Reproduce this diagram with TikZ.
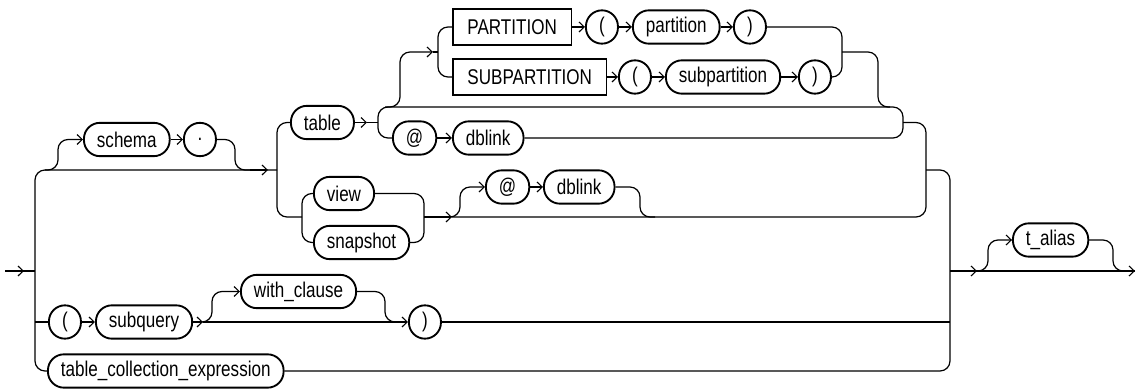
\documentclass[tikz,border=0pt]{standalone}
\usepackage{fontspec}
\setmainfont{Liberation Sans}[FakeStretch=0.8]
\usetikzlibrary{arrows.meta,positioning}

\begin{document}
\begin{tikzpicture}[
  x=0.75pt, y=-0.75pt,
  font=\fontsize{16}{19}\selectfont,
  >={Straight Barb[length=3.8pt,width=7.5pt]},
  nt/.style={rectangle, rounded corners=12pt, draw, line width=1.4pt,
             minimum width=24pt, minimum height=25pt, inner xsep=9.75pt,
             inner ysep=0pt, anchor=west},
  kw/.style={rectangle, draw, line width=1.4pt, minimum height=27pt,
             inner xsep=10.9pt, inner ysep=0pt, anchor=west},
  rail/.style={line width=0.9pt, rounded corners=7.5pt},
  arr/.style={rail, ->}
]
\useasboundingbox (0,0) rectangle (1142,391);

%% junctions
\coordinate (in) at (5,271);
\coordinate (bus) at (35,271);
\coordinate (out) at (1135,271);
\coordinate (jtop) at (277,170);
\coordinate (jtab) at (378,122.5);
\coordinate (jmid) at (926,170);
\coordinate (jend) at (950,271);

%% schema . table
\node[nt] (schema) at (83,139.5) {schema};
\node[nt] (dot) at (183,139.5) {.};
\node[nt] (table) at (290,122.5) {table};

%% partition choices
\node[kw] (kpart) at (452,27) {PARTITION};
\node[nt] (lp1) at (585,27) {(};
\node[nt] (part) at (632,27) {partition};
\node[nt] (rp1) at (733,27) {)};
\node[kw] (ksub) at (452,77) {SUBPARTITION};
\node[nt] (lp2) at (618,77) {(};
\node[nt] (subp) at (665,77) {subpartition};
\node[nt] (rp2) at (798,77) {)};
\node[nt] (at1) at (392,138) {@};
\node[nt] (link1) at (452,138) {dblink};

%% view / snapshot
\node[nt] (view) at (313,193.5) {view};
\node[nt] (snap) at (313,242.5) {snapshot};
\node[nt] (at2) at (485,187) {@};
\node[nt] (link2) at (543,187) {dblink};

%% subquery and collection
\node[nt] (lp3) at (48,322) {(};
\node[nt] (subq) at (95,322) {subquery};
\node[nt] (withc) at (240,291.5) {with\_clause};
\node[nt] (rp3) at (408,322) {)};
\node[nt] (tce) at (47,371) {table\_collection\_expression};
\node[nt] (alias) at (1012,240) {t\_alias};

%% entry and left bus
\draw[rail] (in) -- (bus);
\draw[arr] (in) -- ++(19,0);
\draw[rail] (tce.west) -- (35,371) -- (35,170) -- (jtop);
\draw[arr] (250,170) -- (268,170);
\draw[rail] (35,322) -- (lp3);

%% optional schema
\draw[arr] (45,170) -- (58,170) -- (58,139.5) -- (schema.west);
\draw[arr] (schema) -- (dot);
\draw[rail] (dot) -- (235,139.5) -- (235,170) -- (250,170);

%% table or view
\draw[rail] (table.west) -- (277,122.5) -- (277,217) -- (302,217);
\draw[arr] (table) -- (367,122.5);
\draw[rail] (367,122.5) -- (jtab);
\draw[rail] (at1.west) -- (378,138) -- (378,107) -- (903,107) -- (903,138) -- (link1.east);
\draw[arr] (at1) -- (link1);

%% partition / subpartition
\draw[arr] (385,107) -- (400,107) -- (400,52) -- (433,52);
\draw[rail] (433,52) -- (438,52);
\draw[rail] (kpart.west) -- (438,27) -- (438,77) -- (ksub.west);
\draw[arr] (kpart) -- (lp1);
\draw[arr] (lp1) -- (part);
\draw[arr] (part) -- (rp1);
\draw[arr] (ksub) -- (lp2);
\draw[arr] (lp2) -- (subp);
\draw[arr] (subp) -- (rp2);
\draw[rail] (rp1) -- (842,27) -- (842,77) -- (rp2);
\draw[rail] (842,52) -- (878,52) -- (878,107) -- (890,107);

%% view or snapshot, optional dblink
\draw[rail] (view.west) -- (302,193.5) -- (302,242.5) -- (snap.west);
\draw[rail] (view) -- (424,193.5) -- (424,242.5) -- (snap);
\draw[arr] (424,217) -- (452,217);
\draw[rail] (452,217) -- (926,217) -- (926,122.5) -- (903,122.5);
\draw[arr] (447,217) -- (460,217) -- (460,187) -- (at2.west);
\draw[arr] (at2) -- (link2);
\draw[rail] (link2) -- (640,187) -- (640,217) -- (655,217);

%% subquery row
\draw[arr] (lp3) -- (subq);
\draw[arr] (subq) -- (203,322);
\draw[arr] (203,322) -- (rp3);
\draw[arr] (200,322) -- (212,322) -- (212,291.5) -- (withc.west);
\draw[rail] (withc) -- (385,291.5) -- (385,322) -- (397,322);

%% right bus
\draw[rail] (jmid) -- (950,170) -- (950,371) -- (tce.east);
\draw[rail] (rp3) -- (950,322);

%% optional alias
\draw[rail] (jend) -- (out);
\draw[arr] (jend) -- (977,271);
\draw[arr] (975,271) -- (988,271) -- (988,240) -- (alias.west);
\draw[rail] (alias) -- (1113,240) -- (1113,271) -- (1125,271);
\draw[arr] (1115,271) -- (out);
\end{tikzpicture}
\end{document}
